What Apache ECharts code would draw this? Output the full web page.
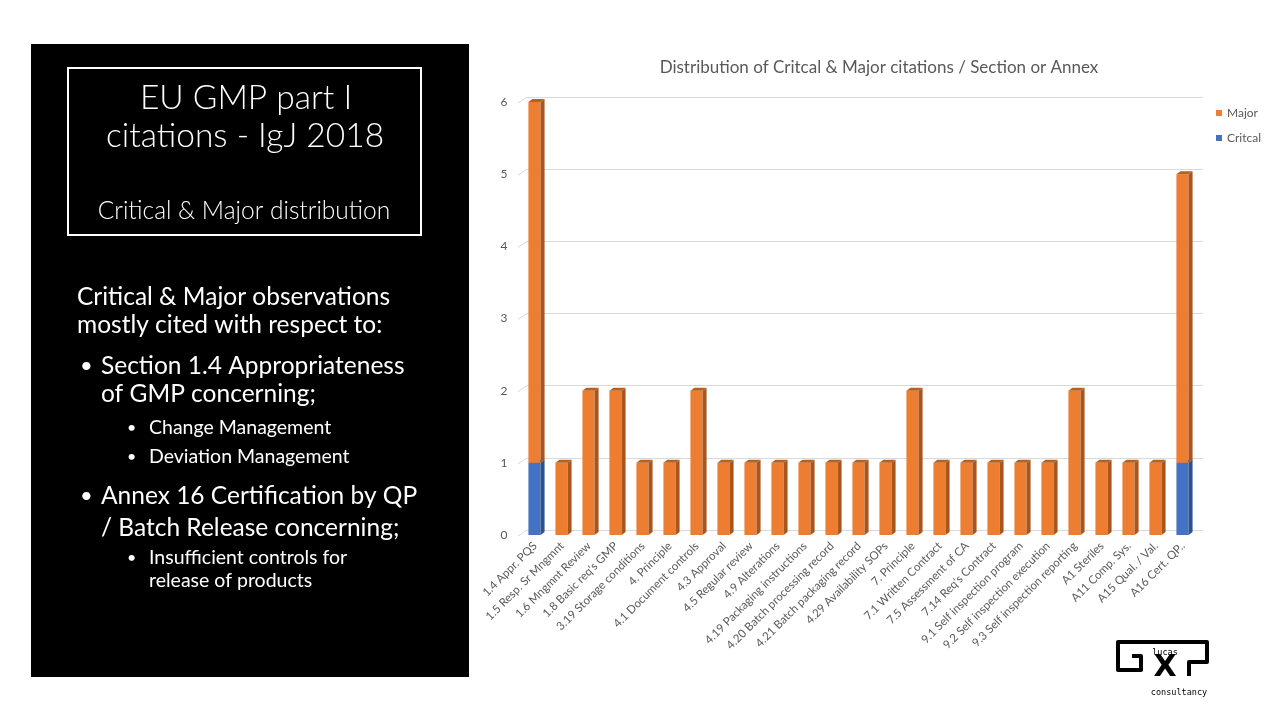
<!DOCTYPE html>
<html>
<head>
<meta charset="utf-8">
<script src="https://cdn.jsdelivr.net/npm/echarts@6/dist/echarts.min.js"></script>
<style>
html,body{margin:0;padding:0;background:#fff;}
#chart{width:1280px;height:720px;}
</style>
</head>
<body>
<div id="chart"></div>
<script>
const categories = ["1.4 Appr. PQS","1.5 Resp. Sr Mngmnt","1.6 Mngmnt Review","1.8 Basic req's GMP","3.19 Storage conditions","4. Principle","4.1 Document controls","4.3 Approval","4.5 Regular review","4.9 Alterations","4.19 Packaging instructions","4.20 Batch processing record","4.21 Batch packaging record","4.29 Availability SOPs","7. Principle","7.1 Written Contract","7.5 Assessment of CA","7.14 Req's Contract","9.1 Self inspection program","9.2 Self inspection execution","9.3 Self inspection reporting","A1 Steriles","A11 Comp. Sys.","A15 Qual. / Val.","A16 Cert. QP.."];
const critical = [1,0,0,0,0,0,0,0,0,0,0,0,0,0,0,0,0,0,0,0,0,0,0,0,1];
const major    = [5,1,2,2,1,1,2,1,1,1,1,1,1,1,2,1,1,1,1,1,2,1,1,1,4];
const yTicks = [0,1,2,3,4,5,6];

const FONT = 'Lato, "Open Sans", sans-serif';
const chart = echarts.init(document.getElementById('chart'));

function bar3d(front, side, topc){
  return function(params, api){
    const x = api.value(0), y0 = api.value(1), y1 = api.value(2);
    if (y1 <= y0) return null;
    const p0 = api.coord([x, y0]);
    const p1 = api.coord([x, y1]);
    const band = api.size([1,0])[0];
    const w = band * 0.45, dx = 4, dy = 3;
    const l = p0[0] - w/2 - 0.5, r = l + w;
    const b = p0[1], t = p1[1];
    return {type:'group', children:[
      {type:'rect', shape:{x:l, y:t, width:w, height:b-t}, style:{fill:front}},
      {type:'polygon', shape:{points:[[r,t],[r+dx,t-dy],[r+dx,b-dy],[r,b]]}, style:{fill:side}},
      {type:'polygon', shape:{points:[[l,t],[l+dx,t-dy],[r+dx,t-dy],[r,t]]}, style:{fill:topc}}
    ]};
  };
}

// short diagonal "floor" ticks joining the front tick labels to the back-wall gridlines
function wallTick(params, api){
  const p = api.coord([0, api.value(1)]);
  return {type:'line', shape:{x1:p[0], y1:p[1], x2:p[0]-9, y2:p[1]+6}, style:{stroke:'#D9D9D9', lineWidth:1}};
}

const critData = categories.map((c,i)=>[i, 0, critical[i]]);
const majData = categories.map((c,i)=>[i, critical[i], critical[i]+major[i]]);
const tickData = yTicks.map(v=>[0, v]);

function txt(x, y, s, size, opts){
  return {type:'text', x:x, y:y, z:10, style:{text:s, fill:'#fff',
    font:((opts && opts.weight) ? opts.weight : 'normal') + ' ' + size + 'px ' + FONT,
    textAlign:(opts&&opts.align)||'left', textVerticalAlign:'middle'}};
}

const graphics = [
  {type:'rect', shape:{x:31,y:44,width:438,height:633}, style:{fill:'#000'}, z:1},
  {type:'rect', shape:{x:68,y:68,width:353,height:167}, style:{fill:'transparent', stroke:'#fff', lineWidth:2}, z:2},
  txt(246, 98, 'EU GMP part I', 33.5, {align:'center', weight:300}),
  txt(245, 136, 'citations - IgJ 2018', 33.5, {align:'center', weight:300}),
  txt(244, 211, 'Critical & Major distribution', 24.5, {align:'center', weight:300}),
  txt(77, 297, 'Critical & Major observations', 24.5),
  txt(77, 325, 'mostly cited with respect to:', 24.5),
  txt(80, 366, '•', 22),
  txt(101, 366, 'Section 1.4 Appropriateness', 24.5),
  txt(101, 394, 'of GMP concerning;', 24.5),
  txt(127, 428, '•', 16),
  txt(149, 428, 'Change Management', 19.5),
  txt(127, 457, '•', 16),
  txt(149, 457, 'Deviation Management', 19.5),
  txt(80, 496, '•', 22),
  txt(101, 496, 'Annex 16 Certification by QP', 24.5),
  txt(101, 528, '/ Batch Release concerning;', 24.5),
  txt(127, 558, '•', 16),
  txt(149, 558, 'Insufficient controls for', 19.5),
  txt(149, 581, 'release of products', 19.5),
  {type:'polyline', shape:{points:[[1132,656],[1141,656],[1141,670],[1118,670],[1118,642],[1207,642],[1207,662],[1189,662],[1189,676]]},
   style:{fill:null, stroke:'#000', lineWidth:4, lineJoin:'round'}, z:5},
  {type:'text', x:1165, y:668, z:5, style:{text:'X', font:'bold 30px "DejaVu Sans", sans-serif', fill:'#000', textAlign:'center', textVerticalAlign:'middle'}},
  {type:'text', x:1165, y:653, z:5, style:{text:'lucas', font:'8.5px "DejaVu Sans Mono", monospace', fill:'#000', textAlign:'center', textVerticalAlign:'middle'}},
  {type:'text', x:1179, y:693, z:5, style:{text:'consultancy', font:'8.5px "DejaVu Sans Mono", monospace', fill:'#000', textAlign:'center', textVerticalAlign:'middle'}}
];

const option = {
  backgroundColor:'#fff',
  animation:false,
  title:{text:'Distribution of Critcal & Major citations / Section or Annex', left:874, top:54, textAlign:'center',
    textStyle:{fontFamily:FONT, fontSize:17, fontWeight:'normal', color:'#595959'}},
  legend:{orient:'vertical', left:1216, top:106, padding:0, itemWidth:6, itemHeight:6, itemGap:11,
    data:[{name:'Major', icon:'rect'},{name:'Critcal', icon:'rect'}],
    textStyle:{fontFamily:FONT, fontSize:12, color:'#595959', lineHeight:14}},
  grid:[
    {left:527, top:97, width:676, height:433},
    {left:521.5, top:102, width:675, height:433}
  ],
  xAxis:[
    {gridIndex:0, type:'value', show:false, min:0, max:1},
    {gridIndex:1, type:'category', data:categories, axisLine:{show:false}, axisTick:{show:false},
     axisLabel:{rotate:45, interval:0, margin:9, fontFamily:FONT, fontSize:11.5, color:'#595959'}}
  ],
  yAxis:[
    {gridIndex:0, type:'value', min:yTicks[0], max:yTicks[yTicks.length-1], interval:1, axisLabel:{show:false}, axisLine:{show:false}, axisTick:{show:false},
     splitLine:{lineStyle:{color:'#D9D9D9', width:1}}},
    {gridIndex:1, type:'value', min:yTicks[0], max:yTicks[yTicks.length-1], interval:1, axisLine:{show:false}, axisTick:{show:false}, splitLine:{show:false},
     axisLabel:{margin:14, fontFamily:FONT, fontSize:12, color:'#595959'}}
  ],
  series:[
    {name:'wall', type:'custom', xAxisIndex:0, yAxisIndex:0, clip:false, silent:true,
     encode:{x:0, y:1}, data:tickData, renderItem:wallTick, z:1},
    {name:'Critcal', type:'custom', xAxisIndex:1, yAxisIndex:1, clip:false, itemStyle:{color:'#4472C4'},
     encode:{x:0, y:[1,2]}, data:critData, renderItem:bar3d('#4472C4','#2F528F','#3A62A8'), z:3},
    {name:'Major', type:'custom', xAxisIndex:1, yAxisIndex:1, clip:false, itemStyle:{color:'#ED7D31'},
     encode:{x:0, y:[1,2]}, data:majData, renderItem:bar3d('#ED7D31','#A9561E','#B9601F'), z:3}
  ],
  graphic:graphics
};
chart.setOption(option);
</script>
</body>
</html>
